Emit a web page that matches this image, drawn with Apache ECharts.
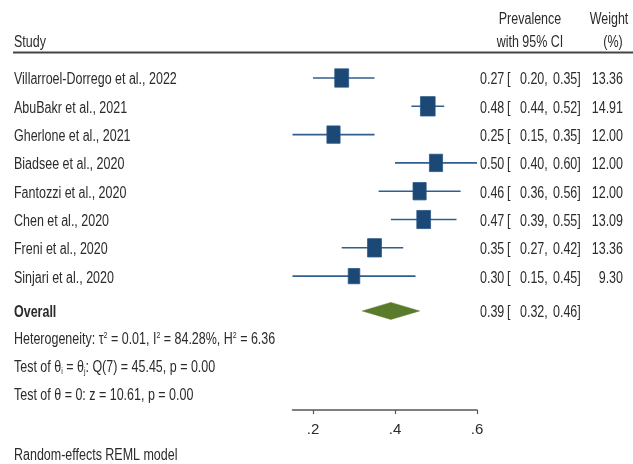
<!DOCTYPE html>
<html>
<head>
<meta charset="utf-8">
<script src="https://cdn.jsdelivr.net/npm/echarts@6/dist/echarts.min.js"></script>
<style>
  html, body { margin: 0; padding: 0; background: #fff; }
  #chart { width: 633px; height: 464px; }
</style>
</head>
<body>
<div id="chart"></div>
<script>
// Study-level estimates (prevalence with 95% CI) and random-effects weights
const studies = [
  'Villarroel-Dorrego et al., 2022',
  'AbuBakr et al., 2021',
  'Gherlone et al., 2021',
  'Biadsee et al., 2020',
  'Fantozzi et al., 2020',
  'Chen et al., 2020',
  'Freni et al., 2020',
  'Sinjari et al., 2020'
];
const prevalence = [0.27, 0.48, 0.25, 0.50, 0.46, 0.47, 0.35, 0.30];
const ciLow      = [0.20, 0.44, 0.15, 0.40, 0.36, 0.39, 0.27, 0.15];
const ciHigh     = [0.35, 0.52, 0.35, 0.60, 0.56, 0.55, 0.42, 0.45];
const weights    = [13.36, 14.91, 12.00, 12.00, 12.00, 13.09, 13.36, 9.30];

// Pooled estimate
const overallLabel = 'Overall';
const overallEst = 0.39;
const overallLow = 0.32;
const overallHigh = 0.46;
const overallRow = 8.23;

// x-axis ticks
const xTicks = [0.2, 0.4, 0.6];

const FONT = '"Liberation Sans", Arial, sans-serif';
const TXT = '#2b2b2b';
const FS = 16;
const SQUEEZE = 0.78; // condensed look for all table text
const ROW_TEXT_DY = 2; // text baseline nudge relative to the row centre

const fmt2 = v => v.toFixed(2);

const studyData = studies.map((s, i) => [prevalence[i], ciLow[i], ciHigh[i], i, weights[i]]);

// Column positions for the numeric table on the right
const COL_EST = 480, COL_BR = 507, COL_LO = 520, COL_HI = 553, COL_W = 623, COL_STUDY = 14;

function txt(x, y, s, extra) {
  return {
    type: 'text',
    x: x, y: y,
    scaleX: SQUEEZE,
    style: Object.assign({
      text: s, fill: TXT, font: FS + 'px ' + FONT,
      verticalAlign: 'middle', align: 'left'
    }, extra || {})
  };
}

function ciTexts(y, est, lo, hi) {
  return [
    txt(COL_EST, y, fmt2(est)),
    txt(COL_BR, y, '['),
    txt(COL_LO, y, fmt2(lo) + ','),
    txt(COL_HI, y, fmt2(hi) + ']')
  ];
}

const chart = echarts.init(document.getElementById('chart'), null, { renderer: 'canvas' });

const option = {
  backgroundColor: '#ffffff',
  animation: false,
  grid: { left: 292.5, right: 156, top: 63.85, bottom: 54, containLabel: false },
  xAxis: {
    type: 'value',
    min: 0.15,
    max: 0.6,
    axisLine: { show: true, onZero: false, lineStyle: { color: '#555', width: 1.5 } },
    axisTick: { show: true, length: 4, customValues: xTicks, lineStyle: { color: '#555', width: 1.2 } },
    axisLabel: {
      customValues: xTicks,
      margin: 12,
      color: TXT,
      fontSize: 15,
      fontFamily: FONT,
      formatter: v => v.toFixed(1).replace(/^0/, '')
    },
    splitLine: { show: false }
  },
  yAxis: {
    type: 'value',
    inverse: true,
    min: -0.5,
    max: 11.73,
    show: false
  },
  series: [
    {
      // One row per study: CI whisker, weight-scaled square, label and numbers
      type: 'custom',
      data: studyData,
      clip: false,
      renderItem: function (params, api) {
        const est = api.value(0), lo = api.value(1), hi = api.value(2), row = api.value(3), w = api.value(4);
        const pEst = api.coord([est, row]);
        const pLo = api.coord([lo, row]);
        const pHi = api.coord([hi, row]);
        const y = pEst[1];
        const sw = 3.8 * Math.sqrt(w);
        const sh = sw * 1.32;
        const idx = params.dataIndex;
        const ty = y + ROW_TEXT_DY;
        return {
          type: 'group',
          children: [
            {
              type: 'line',
              shape: { x1: pLo[0], y1: y, x2: pHi[0], y2: y },
              style: { stroke: '#2f5f8e', lineWidth: 1.6 }
            },
            {
              type: 'rect',
              shape: { x: pEst[0] - sw / 2, y: y - sh / 2, width: sw, height: sh },
              style: { fill: '#1b4874', stroke: '#2a5986', lineWidth: 0.8 }
            },
            txt(COL_STUDY, ty, studies[idx]),
            ...ciTexts(ty, est, lo, hi),
            txt(COL_W, ty, fmt2(w), { align: 'right' })
          ]
        };
      }
    },
    {
      // Pooled estimate diamond
      type: 'custom',
      data: [[overallEst, overallLow, overallHigh, overallRow]],
      clip: false,
      renderItem: function (params, api) {
        const est = api.value(0), lo = api.value(1), hi = api.value(2), row = api.value(3);
        const pEst = api.coord([est, row]);
        const pLo = api.coord([lo, row]);
        const pHi = api.coord([hi, row]);
        const y = pEst[1];
        const h = 8.5;
        const ty = y + ROW_TEXT_DY;
        return {
          type: 'group',
          children: [
            {
              type: 'polygon',
              shape: { points: [[pLo[0], y], [pEst[0], y - h], [pHi[0], y], [pEst[0], y + h]] },
              style: { fill: '#5a7b2c', stroke: '#5a7b2c', lineWidth: 0.5 }
            },
            txt(COL_STUDY, ty, overallLabel, { font: 'bold ' + FS + 'px ' + FONT }),
            ...ciTexts(ty, est, lo, hi)
          ]
        };
      }
    }
  ],
  graphic: [
    // Column headers
    txt(14, 43, 'Study'),
    txt(530, 20, 'Prevalence', { align: 'center' }),
    txt(530, 43, 'with 95% CI', { align: 'center' }),
    txt(609, 20, 'Weight', { align: 'center' }),
    txt(613, 43, '(%)', { align: 'center' }),
    {
      type: 'line',
      shape: { x1: 13, y1: 52.5, x2: 633, y2: 52.5 },
      style: { stroke: '#444', lineWidth: 1.8 }
    },
    // Heterogeneity statistics and tests
    {
      type: 'text',
      x: 14, y: 340,
      scaleX: SQUEEZE,
      style: {
        text: 'Heterogeneity: τ{sup|2} = 0.01, I{sup|2} = 84.28%, H{sup|2} = 6.36',
        fill: TXT, font: FS + 'px ' + FONT, verticalAlign: 'middle', align: 'left',
        rich: {
          sup: { fontSize: 9, fontFamily: FONT, fill: TXT, verticalAlign: 'top', padding: [0, 0, 8, 0] }
        }
      }
    },
    {
      type: 'text',
      x: 14, y: 368,
      scaleX: SQUEEZE,
      style: {
        text: 'Test of θ{sub|i} = θ{sub|j}: Q(7) = 45.45, p = 0.00',
        fill: TXT, font: FS + 'px ' + FONT, verticalAlign: 'middle', align: 'left',
        rich: {
          sub: { fontSize: 9, fontFamily: FONT, fill: TXT, verticalAlign: 'bottom', padding: [8, 0, 0, 0] }
        }
      }
    },
    txt(14, 396, 'Test of θ = 0: z = 10.61, p = 0.00'),
    txt(14, 456, 'Random-effects REML model')
  ]
};

chart.setOption(option);
</script>
</body>
</html>
